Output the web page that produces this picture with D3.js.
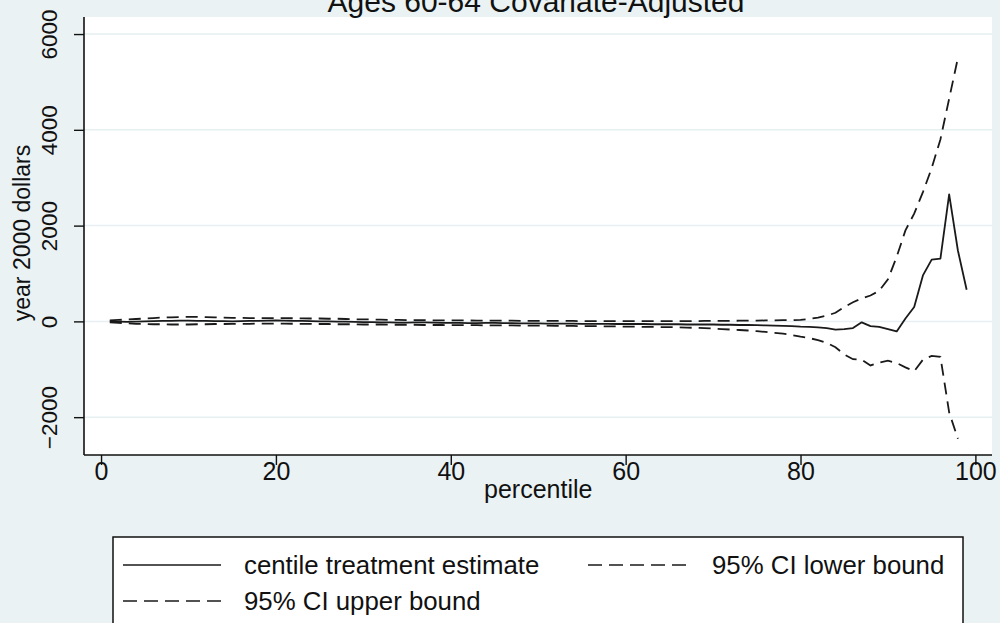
<!DOCTYPE html>
<html>
<head>
<meta charset="utf-8">
<script src="https://cdn.jsdelivr.net/npm/d3@7"></script>
<style>
  html, body { margin: 0; padding: 0; background: #eaf2f3; }
  svg { display: block; }
  text { font-family: "Liberation Sans", Arial, Helvetica, sans-serif; fill: #111; }
</style>
</head>
<body>
<svg id="chart" width="1000" height="623"></svg>
<script>
// Percentiles for the treatment estimate and its confidence bounds
const percentiles = d3.range(1, 100);          // 1..99
const ciPercentiles = d3.range(1, 99);         // 1..98

// Centile treatment estimate (year 2000 dollars)
const estimate = [
  0, -5, -10, -5, 0, 5, 10, 10, 15, 15,
  10, 10, 5, 5, 0, 5, 10, 10, 15, 20,
  15, 10, 10, 5, 0, 0, -5, -5, -10, -15,
  -15, -20, -20, -25, -25, -20, -20, -25, -30, -30,
  -30, -35, -35, -30, -30, -35, -35, -40, -40, -40,
  -45, -45, -45, -45, -50, -50, -50, -50, -55, -55,
  -55, -55, -60, -60, -60, -60, -65, -65, -65, -65,
  -70, -70, -75, -75, -80, -85, -90, -95, -100, -110,
  -115, -125, -140, -170, -160, -140, -20, -100, -115, -160,
  -210, 60, 300, 960, 1290, 1310, 2650, 1480, 660
];

// 95% CI lower bound
const lower = [
  -20, -30, -40, -50, -55, -60, -60, -65, -65, -65,
  -60, -60, -55, -55, -50, -50, -50, -45, -45, -45,
  -45, -50, -50, -50, -55, -55, -60, -60, -60, -65,
  -65, -65, -70, -70, -70, -70, -75, -75, -75, -80,
  -80, -80, -80, -85, -85, -85, -85, -90, -90, -90,
  -90, -95, -95, -95, -100, -100, -100, -105, -105, -110,
  -110, -115, -115, -120, -120, -125, -130, -135, -140, -150,
  -160, -170, -180, -190, -205, -220, -240, -255, -285, -320,
  -350, -390, -450, -540, -690, -790, -800, -920, -860, -820,
  -870, -960, -1040, -800, -720, -740, -1900, -2450
];

// 95% CI upper bound
const upper = [
  20, 30, 40, 50, 60, 70, 80, 85, 90, 95,
  95, 90, 85, 80, 75, 75, 70, 70, 70, 70,
  70, 65, 65, 60, 60, 55, 55, 50, 45, 40,
  40, 35, 30, 30, 25, 25, 25, 20, 20, 20,
  20, 20, 15, 15, 15, 15, 15, 10, 10, 10,
  10, 10, 10, 10, 5, 5, 5, 5, 5, 5,
  5, 5, 5, 5, 5, 5, 5, 5, 10, 10,
  10, 10, 15, 15, 15, 20, 20, 25, 25, 30,
  50, 80, 120, 180, 300, 400, 480, 540, 640, 880,
  1350, 1900, 2250, 2700, 3200, 3800, 4650, 5500
];

const xTicks = [0, 20, 40, 60, 80, 100];
const yTicks = [-2000, 0, 2000, 4000, 6000];

const titleText = "Ages 60-64 Covariate-Adjusted";
const xTitle = "percentile";
const yTitle = "year 2000 dollars";
const legendLabels = ["centile treatment estimate", "95% CI lower bound", "95% CI upper bound"];

const svg = d3.select("#chart");
const W = 1000, H = 623;

// Plot region
const plot = { left: 84, right: 992, top: 17, bottom: 455 };

const x = d3.scaleLinear().domain([-1.95, 101.9]).range([plot.left, plot.right]);
const y = d3.scaleLinear().domain([-2790, 6356]).range([plot.bottom, plot.top]);

// Background
svg.append("rect").attr("width", W).attr("height", H).attr("fill", "#eaf2f3");
svg.append("rect")
  .attr("x", plot.left).attr("y", plot.top)
  .attr("width", plot.right - plot.left).attr("height", plot.bottom - plot.top)
  .attr("fill", "#ffffff");

// Horizontal grid lines
svg.append("g").selectAll("line").data(yTicks).join("line")
  .attr("x1", plot.left).attr("x2", plot.right)
  .attr("y1", d => y(d)).attr("y2", d => y(d))
  .attr("stroke", "#e6eff1").attr("stroke-width", 1.5);

// Title (partly above the top edge of the page)
svg.append("text")
  .attr("x", 536).attr("y", 12)
  .attr("text-anchor", "middle")
  .attr("font-size", 30)
  .text(titleText);

// X axis
const xAxis = d3.axisBottom(x).tickValues(xTicks).tickSize(10).tickFormat(d3.format("d"));
const gx = svg.append("g").attr("transform", `translate(0,${plot.bottom})`).call(xAxis);
gx.select(".domain").attr("d", `M${plot.left},0H${plot.right}`).attr("stroke", "#111").attr("stroke-width", 1.6);
gx.selectAll(".tick line").attr("stroke", "#111").attr("stroke-width", 1.4);
gx.selectAll(".tick text").attr("font-size", 25).attr("fill", "#111")
  .attr("font-family", "'Liberation Sans', Arial, sans-serif")
  .attr("y", 25).attr("dy", 0);

// Y axis
const yAxis = d3.axisLeft(y).tickValues(yTicks).tickSize(10).tickFormat(d3.format("d"));
const gy = svg.append("g").attr("transform", `translate(${plot.left},0)`).call(yAxis);
gy.select(".domain").attr("d", `M0,${plot.bottom}V${plot.top}`).attr("stroke", "#111").attr("stroke-width", 1.6);
gy.selectAll(".tick line").attr("stroke", "#111").attr("stroke-width", 1.4);
gy.selectAll(".tick text")
  .attr("font-size", 22.5).attr("fill", "#111")
  .attr("font-family", "'Liberation Sans', Arial, sans-serif")
  .attr("text-anchor", "middle")
  .attr("dy", 0)
  .attr("x", 0).attr("y", 0)
  .attr("transform", "translate(-27,0) rotate(-90)")
  .text(d => d < 0 ? "\u2212" + Math.abs(d) : d);

// Axis titles
svg.append("text")
  .attr("x", (x(0) + x(100)) / 2).attr("y", 498)
  .attr("text-anchor", "middle").attr("font-size", 25)
  .text(xTitle);

svg.append("text")
  .attr("transform", `translate(30,233) rotate(-90)`)
  .attr("text-anchor", "middle").attr("font-size", 23)
  .text(yTitle);

// Series lines
const dash = "12,7";
const line = d3.line().x(d => x(d[0])).y(d => y(d[1]));

svg.append("defs").append("clipPath").attr("id", "plotclip")
  .append("rect").attr("x", plot.left).attr("y", plot.top)
  .attr("width", plot.right - plot.left).attr("height", plot.bottom - plot.top);

const gLines = svg.append("g").attr("clip-path", "url(#plotclip)");

gLines.append("path")
  .datum(percentiles.map((p, i) => [p, estimate[i]]))
  .attr("d", line).attr("fill", "none")
  .attr("stroke", "#1a1a1a").attr("stroke-width", 1.8).attr("stroke-linejoin", "round");

gLines.append("path")
  .datum(ciPercentiles.map((p, i) => [p, lower[i]]))
  .attr("d", line).attr("fill", "none")
  .attr("stroke", "#1a1a1a").attr("stroke-width", 1.8)
  .attr("stroke-dasharray", dash);

gLines.append("path")
  .datum(ciPercentiles.map((p, i) => [p, upper[i]]))
  .attr("d", line).attr("fill", "none")
  .attr("stroke", "#1a1a1a").attr("stroke-width", 1.8)
  .attr("stroke-dasharray", dash);

// Legend
const lg = svg.append("g");
lg.append("rect")
  .attr("x", 113).attr("y", 537).attr("width", 850).attr("height", 110)
  .attr("fill", "#ffffff").attr("stroke", "#111").attr("stroke-width", 1.5);

const legendItems = [
  { label: legendLabels[0], dash: null,  sx: 123, tx: 244, row: 0 },
  { label: legendLabels[1], dash: "14,7", sx: 588, tx: 712, row: 0 },
  { label: legendLabels[2], dash: "14,7", sx: 123, tx: 244, row: 1 }
];
const rowY = [565, 601];

legendItems.forEach(it => {
  lg.append("line")
    .attr("x1", it.sx).attr("x2", it.sx + 98)
    .attr("y1", rowY[it.row]).attr("y2", rowY[it.row])
    .attr("stroke", "#1a1a1a").attr("stroke-width", 1.7)
    .attr("stroke-dasharray", it.dash);
  lg.append("text")
    .attr("x", it.tx).attr("y", rowY[it.row] + 9)
    .attr("font-size", 25.8)
    .text(it.label);
});
</script>
</body>
</html>
